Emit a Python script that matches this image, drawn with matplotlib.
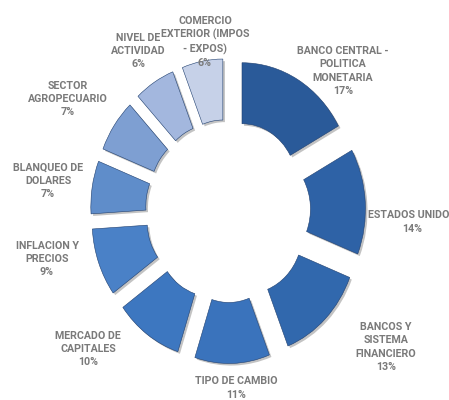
import matplotlib
matplotlib.use("Agg")
import matplotlib.pyplot as plt
import matplotlib.patheffects as pe

categories = [
    "BANCO CENTRAL -\nPOLITICA\nMONETARIA",
    "ESTADOS UNIDOS",
    "BANCOS Y\nSISTEMA\nFINANCIERO",
    "TIPO DE CAMBIO",
    "MERCADO DE\nCAPITALES",
    "INFLACION Y\nPRECIOS",
    "BLANQUEO DE\nDOLARES",
    "SECTOR\nAGROPECUARIO",
    "NIVEL DE\nACTIVIDAD",
    "COMERCIO\nEXTERIOR (IMPOS\n- EXPOS)",
]
values = [17, 14, 13, 11, 10, 9, 7, 7, 6, 6]

colors = ["#2a5a99", "#2e62a6", "#3168ad", "#3a73bc", "#3d77c0",
          "#4a81c7", "#5f8dca", "#7e9fd2", "#a3b7de", "#c6d1e8"]

# label centres in pixel coordinates (layout only)
label_pos = [(343, 71), (412, 222), (386, 347), (236, 388), (88, 349),
             (47, 259), (48, 181), (68, 99), (138, 51), (205, 42)]

W, H = 449, 400
fig = plt.figure(figsize=(W / 100, H / 100), dpi=100)
ax = fig.add_axes([0, 0, 1, 1])

cx, cy, Rh, Rv = 228, 211, 110, 122

wedges, _ = ax.pie(values, radius=1.0, startangle=90, counterclock=False,
                   explode=[0.25] * len(values), colors=colors,
                   wedgeprops=dict(width=0.5))
for w in wedges:
    w.set_path_effects([pe.SimplePatchShadow(offset=(1.5, -1.5), alpha=0.35, shadow_rgbFace="#555555"),
                        pe.Normal()])
    w.set_edgecolor("#1f3f6f")
    w.set_linewidth(0.4)

ax.set_aspect("auto")
ax.set_xlim(-cx / Rh, (W - cx) / Rh)
ax.set_ylim((cy - H) / Rv, cy / Rv)
ax.axis("off")

for lab, v, (px, py) in zip(categories, values, label_pos):
    fig.text(px / W, 1 - py / H, f"{lab}\n{v}%", ha="center", va="center",
             fontsize=7.7, fontweight="bold", color="#7a7a7a",
             family=["Roboto", "DejaVu Sans"],
             linespacing=1.4)

fig.savefig("out.png", dpi=100)
